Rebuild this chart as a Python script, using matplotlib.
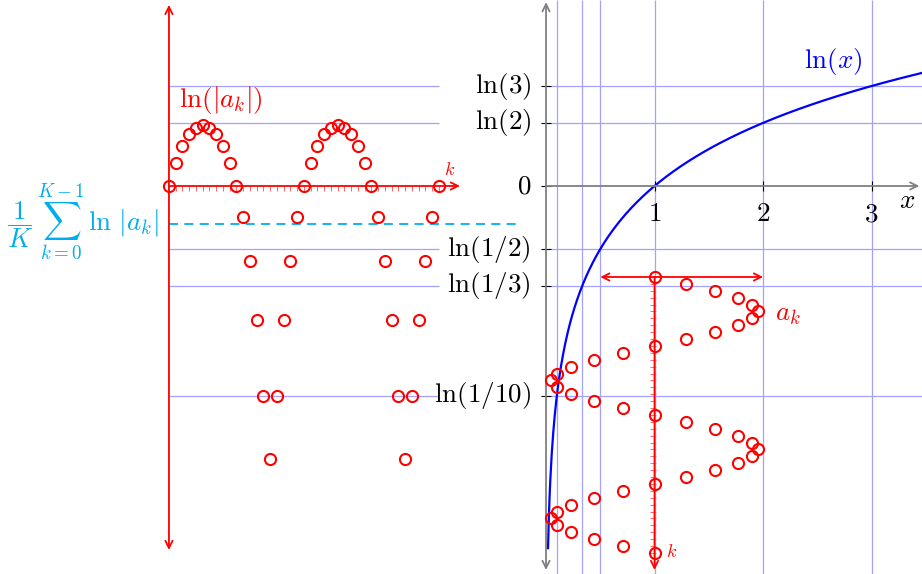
import numpy as np
import matplotlib.pyplot as plt

plt.rcParams['mathtext.fontset'] = 'cm'
plt.rcParams['font.family'] = 'DejaVu Serif'

# values of the sequence a_k, k = 0..40
a_k = [1.00, 1.29, 1.56, 1.77, 1.90, 1.95, 1.90, 1.77, 1.56, 1.29,
       1.00, 0.71, 0.44, 0.23, 0.10, 0.05, 0.10, 0.23, 0.44, 0.71,
       1.00, 1.29, 1.56, 1.77, 1.90, 1.95, 1.90, 1.77, 1.56, 1.29,
       1.00, 0.71, 0.44, 0.23, 0.10, 0.05, 0.10, 0.23, 0.44, 0.71,
       1.00]
K = 40

ref_values = [3, 2, 1/2, 1/3, 1/10]
ref_labels = [r'$\ln(3)$', r'$\ln(2)$', r'$\ln(1/2)$', r'$\ln(1/3)$', r'$\ln(1/10)$']
vgrid_values = [1/10, 1/3, 1/2, 1, 2, 3]
x_ticks = [1, 2, 3]

k = np.arange(len(a_k))
ln_a = np.log(np.abs(a_k))
mean_ln = ln_a[:K].mean()

RED = '#ff0000'
GRID = '#a3a3ff'
CYAN = '#00aeef'
GRAY = '#808080'
FS = 19.5

# one axes over the whole figure, units of the ln(x) plot
XMIN, XMAX = -5.032, 3.465
YMIN, YMAX = -4.264, 2.044
px = 1 / 108.5   # one pixel in x units
py = 1 / 91.0    # one pixel in y units

fig = plt.figure(figsize=(9.22, 5.74), dpi=100)
ax = fig.add_axes([0, 0, 1, 1])
ax.set_xlim(XMIN, XMAX)
ax.set_ylim(YMIN, YMAX)
ax.axis('off')

def arrow(p0, p1, style, color, lw=1.3):
    ax.annotate('', xy=p1, xytext=p0,
                arrowprops=dict(arrowstyle=style, color=color, lw=lw,
                                shrinkA=0, shrinkB=0, mutation_scale=13))

# ---------------- left panel: ln|a_k| against k ----------------
LX0 = -3.475
LDK = 0.0622
lx = LX0 + k * LDK
lx_end = LX0 + K * LDK

ax.hlines(np.log(ref_values), LX0, lx_end, color=GRID, lw=0.9)
arrow((LX0, -4.0), (LX0, 1.99), '<->', RED)
arrow((LX0, 0), (-0.793, 0), '->', RED)
ax.vlines(lx, 0, -5 * py, color='#ff6666', lw=0.7)
ax.plot([LX0, -0.24], [mean_ln, mean_ln], color=CYAN, lw=1.3, ls=(0, (5, 3.5)))
ax.plot(lx, ln_a, 'o', mfc='none', mec=RED, ms=8, mew=1.5, zorder=5)

ax.text(LX0 + 10 * px, 0.945, r'$\ln(|a_k|)$', color=RED, fontsize=FS,
        ha='left', va='center')
ax.text(-0.885, 0.176, r'$k$', color=RED, fontsize=13, ha='center', va='center')
ax.text(-4.267, -0.396, r'$\dfrac{1}{K}\,\sum_{k=0}^{K-1}\,\ln\,|a_k|$', color=CYAN,
        fontsize=FS, ha='center', va='center')

# ---------------- right panel: ln(x) and a_k ----------------
ax.hlines(np.log(ref_values), 0, XMAX, color=GRID, lw=0.9)
ax.vlines(vgrid_values, YMIN, YMAX, color=GRID, lw=0.9)

arrow((0, -4.22), (0, 2.02), '<->', GRAY)
arrow((0, 0), (3.44, 0), '->', GRAY)
ax.hlines(list(np.log(ref_values)) + [0], -5 * px, 5 * px, color='black', lw=0.8)
ax.vlines(x_ticks, -5 * py, 5 * py, color='black', lw=0.8)

for v, lab in zip(ref_values, ref_labels):
    ax.text(-15 * px, np.log(v), lab, fontsize=FS, ha='right', va='center')
ax.text(-15 * px, 0, r'$0$', fontsize=FS, ha='right', va='center')
for t in x_ticks:
    ax.text(t, -28 * py, r'$%d$' % t, fontsize=FS, ha='center', va='center')
ax.text(3.327, -0.154, r'$x$', fontsize=FS, ha='center', va='center')

xs = np.linspace(np.exp(-3.98), XMAX, 500)
ax.plot(xs, np.log(xs), color='blue', lw=1.6)
ax.text(2.645, 1.363, r'$\ln(x)$', color='blue', fontsize=FS, ha='center', va='center')

# a_k placed at x = a_k, k running downward from y = -1
RY0 = -1.0
RDK = 0.0758
ry = RY0 - k * RDK
arrow((0.5, RY0), (2.0, RY0), '<->', RED)
arrow((1, RY0), (1, -4.22), '->', RED)
ax.hlines(ry, 1 - 5 * px, 1 + 1 * px, color='#ff6666', lw=0.7)
ax.plot(a_k, ry, 'o', mfc='none', mec=RED, ms=8, mew=1.5, zorder=5)
ax.text(2.11, -1.396, r'$a_k$', color=RED, fontsize=FS, ha='left', va='center')
ax.text(1.16, -4.02, r'$k$', color=RED, fontsize=13, ha='center', va='center')

plt.savefig('out.png', dpi=100)
